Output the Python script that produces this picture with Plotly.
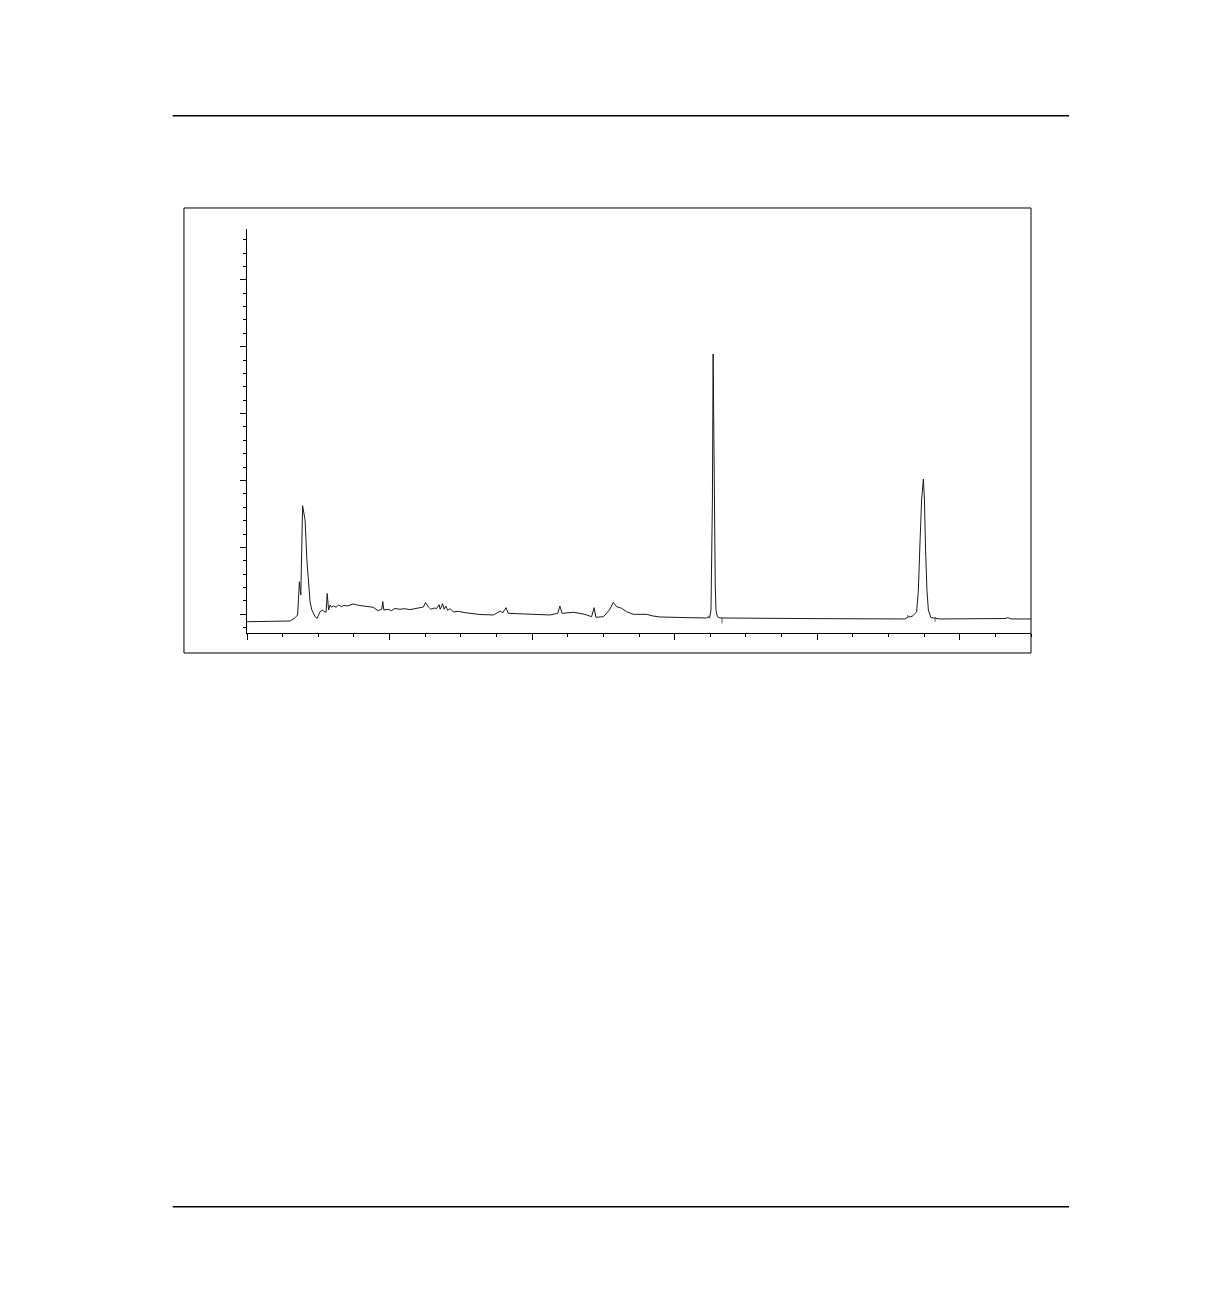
import plotly.graph_objects as go

# chromatogram trace (time in min, signal in mAU)
time_min = [
    0.00, 0.65, 0.70, 1.21, 1.35, 1.42, 1.47, 1.51, 1.56, 1.63,
    1.68, 1.73, 1.77, 1.82, 1.91, 1.97, 2.05, 2.12, 2.16, 2.22,
    2.25, 2.29, 2.33, 2.37, 2.42, 2.50, 2.57, 2.65, 2.72, 2.81,
    2.91, 2.98, 3.12, 3.26, 3.40, 3.54, 3.68, 3.78, 3.81, 3.84,
    3.96, 4.06, 4.15, 4.29, 4.43, 4.57, 4.71, 4.85, 4.95, 5.01,
    5.09, 5.16, 5.26, 5.32, 5.39, 5.42, 5.49, 5.53, 5.58, 5.63,
    5.70, 5.79, 5.93, 6.12, 6.40, 6.54,
    6.91, 7.05, 7.12, 7.17, 7.27, 7.33, 7.85, 8.50, 8.72, 8.78,
    8.84, 9.16, 9.48, 9.67, 9.74, 9.79, 10.00, 10.17, 10.28, 10.37,
    10.51, 10.65, 10.84, 11.21, 11.39, 11.59, 12.43, 12.90, 12.94, 12.98,
    13.02, 13.03, 13.06, 13.08, 13.11, 13.14, 13.16, 13.20, 13.27, 14.39,
    15.52, 16.64, 17.76, 18.46, 18.56, 18.66, 18.79, 18.84, 18.88, 18.93,
    18.98, 19.01, 19.04, 19.08, 19.12, 19.19, 19.44, 20.57, 21.27, 21.35,
    21.46, 22.00,
]
signal_mau = [
    -11.1, -10.8, -10.0, -10.0, -5.1, -1.0, 48.7, 28.9, 162.3, 141.0,
    81.2, 43.8, 18.4, 6.4, -3.6, -6.0, 3.9, 6.4, 3.9, 3.4,
    31.1, 6.4, 13.9, 10.5, 12.4, 10.5, 13.9, 11.4, 13.5, 12.4,
    14.4, 15.4, 13.5, 12.4, 11.4, 10.5, 5.4, 7.5, 19.1, 6.4,
    7.5, 5.4, 8.7, 7.5, 8.4, 6.9, 8.4, 9.4, 10.9, 17.6,
    10.9, 7.5, 9.4, 8.4, 14.4, 7.5, 15.8, 7.5, 12.4, 6.0,
    8.4, 3.4, 4.5, 2.4, 0.9, -0.3,
    -1.0, 3.0, 4.9, 1.9, 9.9, 1.5, 0.0, -1.0, 1.5, 12.4,
    1.5, 3.0, 0.0, -3.6, 9.9, -4.5, -3.6, 6.4, 17.9, 11.4,
    9.0, 3.9, 0.0, 0.0, -2.5, -4.0, -5.1, -5.5, -3.6, -5.5,
    6.4, 43.8, 170.9, 389.1, 170.9, 43.8, 6.4, -3.6, -5.5, -6.3,
    -6.3, -6.6, -7.0, -7.0, -4.0, -3.3, 3.4, 36.3, 99.1, 170.9,
    202.2, 170.9, 99.1, 36.3, 6.4, -4.8, -7.0, -7.0, -6.3, -5.1,
    -7.0, -7.0,
]

# integration start/stop marks drawn under the baseline
mark_time = [12.96, 12.96, None, 13.33, 13.33, None, 18.54, 18.54, None, 19.31, 19.31]
mark_mau = [-2.0, -5.5, None, -4.0, -13.5, None, -1.0, -5.0, None, -4.0, -11.0]

fig = go.Figure()
fig.add_trace(go.Scatter(x=time_min, y=signal_mau, mode="lines",
                         line=dict(color="#1a1a1a", width=1), hoverinfo="skip"))
fig.add_trace(go.Scatter(x=mark_time, y=mark_mau, mode="lines",
                         line=dict(color="#555555", width=1), hoverinfo="skip"))

axis_common = dict(showline=True, linecolor="black", linewidth=1, showgrid=False,
                   zeroline=False, showticklabels=False, ticks="outside",
                   tickcolor="black", tickwidth=1, ticklen=6)

fig.update_xaxes(range=[0, 22], tick0=0, dtick=4,
                 minor=dict(dtick=1, ticks="outside", ticklen=3, tickcolor="black", showgrid=False),
                 **axis_common)
fig.update_yaxes(range=[-27.95, 575.9], tick0=0, dtick=100,
                 minor=dict(dtick=20, ticks="outside", ticklen=3, tickcolor="black", showgrid=False),
                 **axis_common)

# frame around the chart and the page rules above/below
fig.add_shape(type="rect", xref="paper", yref="paper", x0=-0.0804, x1=1.0, y0=-0.0495, y1=1.052,
              line=dict(color="black", width=1))
fig.add_shape(type="line", xref="paper", yref="paper", x0=-0.0948, x1=1.0485, y0=1.2804, y1=1.2804,
              line=dict(color="black", width=1.5))
fig.add_shape(type="line", xref="paper", yref="paper", x0=-0.0948, x1=1.0485, y0=-1.42, y1=-1.42,
              line=dict(color="black", width=1.5))

# page body adds 8px, so margins are trimmed by that amount
fig.update_layout(width=1222, height=1296, showlegend=False,
                  margin=dict(l=239, r=199, t=221, b=671, autoexpand=False),
                  paper_bgcolor="white", plot_bgcolor="white")

fig.write_html("out.html")
